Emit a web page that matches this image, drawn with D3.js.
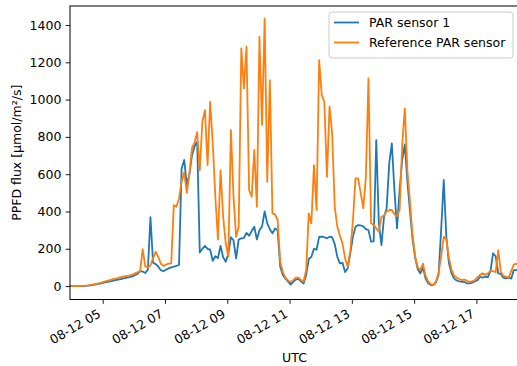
<!DOCTYPE html>
<html>
<head>
<meta charset="utf-8">
<script src="https://cdn.jsdelivr.net/npm/d3@7"></script>
<style>
  body { margin: 0; background: #fff; }
  text { font-family: "DejaVu Sans", sans-serif; fill: #000; }
</style>
</head>
<body>
<div id="chart"></div>
<script>
// samples every 5 minutes, UTC
var startTime = "2019-08-12T03:57:00Z";
var stepMinutes = 5;

var sensorValues = [
  1, 0, 0, 0, 0, 0, 1, 2, 4, 6, 9, 12, 15, 18, 21, 24, 27, 30, 33, 36,
  39, 42, 45, 48, 52, 58, 65, 80, 78, 70, 88, 370, 125, 118, 105, 85, 80, 88, 95, 100,
  104, 108, 113, 630, 676, 545, 600, 700, 750, 774, 180, 200, 215, 200, 195, 135, 160, 150, 215, 155,
  130, 175, 262, 245, 148, 250, 256, 258, 285, 270, 295, 318, 250, 300, 320, 400, 336, 305, 283, 309,
  300, 104, 59, 40, 25, 8, 23, 35, 38, 25, 14, 60, 145, 157, 200, 195, 264, 265, 262, 256,
  265, 262, 225, 157, 122, 125, 75, 95, 175, 264, 318, 327, 325, 320, 305, 300, 238, 240, 783, 336,
  220, 372, 417, 658, 765, 515, 309, 515, 676, 760, 560, 400, 250, 150, 90, 68, 100, 40, 15, 5,
  5, 20, 60, 300, 569, 264, 122, 68, 40, 30, 25, 23, 22, 14, 14, 18, 25, 32, 50, 45,
  50, 48, 80, 175, 160, 68, 65, 45, 41, 45, 40, 86, 86, 85
];

var referenceValues = [
  2, 1, 0, 0, 0, 1, 2, 4, 6, 9, 12, 15, 18, 22, 26, 30, 34, 38, 42, 46,
  49, 52, 55, 58, 62, 68, 74, 80, 198, 105, 100, 110, 150, 184, 157, 120, 108, 115, 120, 122,
  434, 425, 470, 560, 610, 500, 600, 740, 770, 825, 620, 880, 944, 649, 988, 767, 479, 250, 622, 372,
  229, 157, 837, 479, 264, 318, 1275, 1060, 1284, 515, 479, 730, 425, 1337, 864, 1436, 560, 1105, 390, 385,
  355, 130, 75, 45, 30, 22, 32, 45, 45, 32, 25, 86, 390, 336, 649, 408, 1212, 1024, 988, 586,
  962, 819, 425, 318, 270, 229, 148, 104, 190, 350, 578, 578, 500, 417, 586, 1114, 336, 330, 309, 291,
  372, 378, 400, 408, 408, 385, 375, 408, 760, 953, 620, 450, 270, 160, 100, 85, 120, 55, 25, 10,
  5, 25, 70, 160, 264, 250, 150, 88, 55, 45, 38, 32, 35, 28, 22, 25, 32, 48, 60, 68,
  60, 68, 80, 80, 75, 193, 75, 55, 50, 45, 80, 115, 120, 118
];

var seriesNames = ["PAR sensor 1", "Reference PAR sensor"];
var seriesColors = ["#1f77b4", "#ff7f0e"];
var yTicks = [0, 200, 400, 600, 800, 1000, 1200, 1400];
var xTicks = ["2019-08-12T05:00:00Z", "2019-08-12T07:00:00Z", "2019-08-12T09:00:00Z",
              "2019-08-12T11:00:00Z", "2019-08-12T13:00:00Z", "2019-08-12T15:00:00Z",
              "2019-08-12T17:00:00Z"];

var width = 517, height = 366;
var margin = {left: 70, top: 6, right: -2, bottom: 66.5};
var w = width - margin.left - margin.right;
var h = height - margin.top - margin.bottom;
var fontSize = "12.5px";

var t0 = new Date(startTime);
var times = sensorValues.map(function(d, i) { return d3.utcMinute.offset(t0, i * stepMinutes); });

var x = d3.scaleUtc()
    .domain([times[0], times[times.length - 1]])
    .range([0, w]);
var y = d3.scaleLinear()
    .domain([-72, 1502])
    .range([h, 0]);

var svg = d3.select("#chart").append("svg")
    .attr("width", width)
    .attr("height", height);

var g = svg.append("g")
    .attr("transform", "translate(" + margin.left + "," + margin.top + ")");

g.append("clipPath").attr("id", "clip")
  .append("rect").attr("width", w).attr("height", h);

var line = d3.line()
    .x(function(d) { return x(d.t); })
    .y(function(d) { return y(d.v); });

[sensorValues, referenceValues].forEach(function(vals, k) {
    var pts = vals.map(function(v, i) { return {t: times[i], v: v}; });
    g.append("path")
        .datum(pts)
        .attr("clip-path", "url(#clip)")
        .attr("fill", "none")
        .attr("stroke", seriesColors[k])
        .attr("stroke-width", 1.8)
        .attr("stroke-linejoin", "round")
        .attr("d", line);
});

// y axis
var yAxis = g.append("g")
    .call(d3.axisLeft(y).tickValues(yTicks).tickSize(4.3).tickPadding(4.3).tickFormat(d3.format("d")));
yAxis.select(".domain").remove();
yAxis.selectAll("text").style("font-size", fontSize);
yAxis.selectAll("line").attr("stroke", "#000").attr("stroke-width", 0.9);

// x axis
var fmt = d3.utcFormat("%m-%d %H");
var xAxis = g.append("g")
    .attr("transform", "translate(0," + h + ")")
    .call(d3.axisBottom(x).tickValues(xTicks.map(function(s) { return new Date(s); }))
        .tickSize(4.3).tickPadding(0).tickFormat(fmt));
xAxis.select(".domain").remove();
xAxis.selectAll("line").attr("stroke", "#000").attr("stroke-width", 0.9);
xAxis.selectAll("text")
    .style("font-size", fontSize)
    .attr("text-anchor", "end")
    .attr("dy", null)
    .attr("y", null)
    .attr("transform", "translate(-1.5,16.8) rotate(-30)");

// spines
g.append("rect")
    .attr("width", w).attr("height", h)
    .attr("fill", "none")
    .attr("stroke", "#000")
    .attr("stroke-width", 1);

// axis labels
svg.append("text")
    .attr("x", margin.left + w / 2)
    .attr("y", 362)
    .attr("text-anchor", "middle")
    .style("font-size", fontSize)
    .text("UTC");

svg.append("text")
    .attr("transform", "translate(21," + (margin.top + h / 2) + ") rotate(-90)")
    .attr("text-anchor", "middle")
    .style("font-size", fontSize)
    .text("PPFD flux [μmol/m²/s]");

// legend
var leg = svg.append("g").attr("transform", "translate(329,12)");
leg.append("rect")
    .attr("width", 184).attr("height", 46)
    .attr("rx", 3)
    .attr("fill", "#fff").attr("fill-opacity", 0.8)
    .attr("stroke", "#cccccc");
seriesNames.forEach(function(name, k) {
    var yy = 10.5 + k * 20;
    leg.append("line")
        .attr("x1", 5).attr("x2", 30)
        .attr("y1", yy).attr("y2", yy)
        .attr("stroke", seriesColors[k]).attr("stroke-width", 1.8);
    leg.append("text")
        .attr("x", 40).attr("y", yy)
        .attr("dy", "0.35em")
        .style("font-size", fontSize)
        .text(name);
});
</script>
</body>
</html>
